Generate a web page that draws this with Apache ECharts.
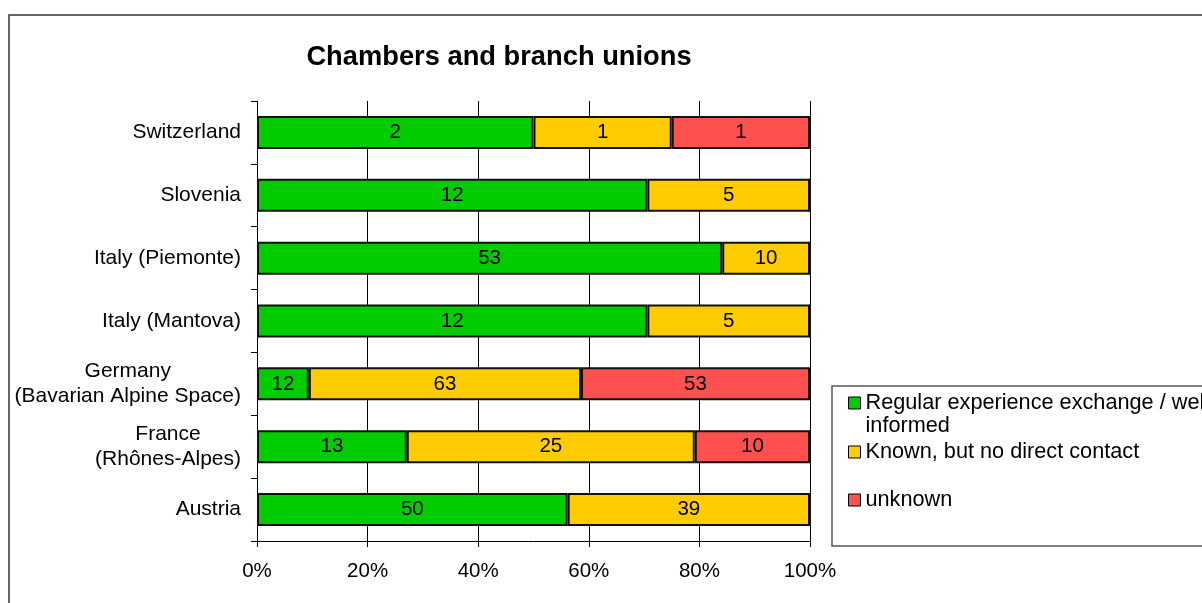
<!DOCTYPE html>
<html><head><meta charset="utf-8">
<script src="https://cdn.jsdelivr.net/npm/echarts@6/dist/echarts.min.js"></script>
<style>html,body{margin:0;padding:0;background:#fff}#c{width:1202px;height:603px}</style>
</head><body><div id="c"></div>
<script>
const titleText = 'Chambers and branch unions';
const categories = ['Austria', 'France\n(Rhônes-Alpes)', 'Germany\n(Bavarian Alpine Space)', 'Italy (Mantova)', 'Italy (Piemonte)', 'Slovenia', 'Switzerland'];
const regular = [50, 13, 12, 12, 53, 12, 2];
const known = [39, 25, 63, 5, 10, 5, 1];
const unknown = [0, 10, 53, 0, 0, 0, 1];
const seriesNames = ['Regular experience exchange / well informed', 'Known, but no direct contact', 'unknown'];
const seriesColors = ['#00CC00', '#FFCC00', '#FF5050'];
const rawSeries = [regular, known, unknown];

const totals = categories.map((c, i) => regular[i] + known[i] + unknown[i]);
const FONT = '"Liberation Sans", Arial, sans-serif';

const series = rawSeries.map((arr, s) => ({
  name: seriesNames[s],
  type: 'bar',
  stack: 'all',
  barWidth: 33,
  data: arr.map((v, i) => ({ value: v / totals[i] * 100, raw: v })),
  itemStyle: { color: seriesColors[s], borderColor: '#111', borderWidth: 2 },
  label: {
    show: true, position: 'inside', color: '#000', fontFamily: FONT, fontSize: 20.5,
    formatter: p => p.data.raw > 0 ? String(p.data.raw) : ''
  },
  emphasis: { disabled: true }
}));

function legendItem(idx, top, extra) {
  return Object.assign({
    show: true, selectedMode: false, orient: 'vertical', left: 848, top: top, padding: 0,
    itemWidth: 12, itemHeight: 12, itemGap: 0,
    icon: 'rect',
    itemStyle: { borderColor: '#000', borderWidth: 1 },
    textStyle: { fontFamily: FONT, fontSize: 21.7, color: '#000', lineHeight: 23 },
    data: [{ name: seriesNames[idx] }]
  }, extra || {});
}

const chart = echarts.init(document.getElementById('c'), null, { renderer: 'canvas' });
chart.setOption({
  animation: false,
  backgroundColor: '#fff',
  title: {
    text: titleText, left: 494, top: 39, textAlign: 'center',
    textStyle: { fontFamily: FONT, fontSize: 27.3, fontWeight: 'bold', color: '#000' }
  },
  grid: { left: 257, right: 392, top: 101, bottom: 62, containLabel: false },
  xAxis: {
    type: 'value', min: 0, max: 100, interval: 20,
    axisLine: { show: true, lineStyle: { color: '#000', width: 1 } },
    axisTick: { show: true, length: 6, lineStyle: { color: '#000' } },
    splitLine: { show: true, lineStyle: { color: '#000', width: 1 } },
    axisLabel: { formatter: '{value}%', fontFamily: FONT, fontSize: 20.5, color: '#000', margin: 20 }
  },
  yAxis: {
    type: 'category', data: categories,
    axisLine: { show: true, lineStyle: { color: '#000', width: 1 } },
    axisTick: { show: true, length: 6, lineStyle: { color: '#000' } },
    axisLabel: {
      fontFamily: FONT, fontSize: 21, color: '#000', margin: 16, lineHeight: 25,
      formatter: v => v.split('\n').map(s => '{c|' + s + '}').join('\n'),
      rich: { c: { align: 'center', fontFamily: FONT, fontSize: 21, color: '#000', lineHeight: 25 } }
    }
  },
  legend: [
    legendItem(0, 368.5, {
      formatter: n => '\u00a0\n' + n.replace(' well informed', ' well\ninformed')
    }),
    legendItem(1, 440.5),
    legendItem(2, 488.5)
  ],
  graphic: [
    { type: 'rect', z: -10, silent: true, shape: { x: 9, y: 15, width: 1400, height: 800 },
      style: { fill: 'none', stroke: '#333', lineWidth: 1.5 } },
    { type: 'rect', z: -5, silent: true, shape: { x: 832, y: 386, width: 500, height: 160 },
      style: { fill: 'none', stroke: '#555', lineWidth: 1.5 } }
  ],
  series: series
});
</script>
</body></html>
